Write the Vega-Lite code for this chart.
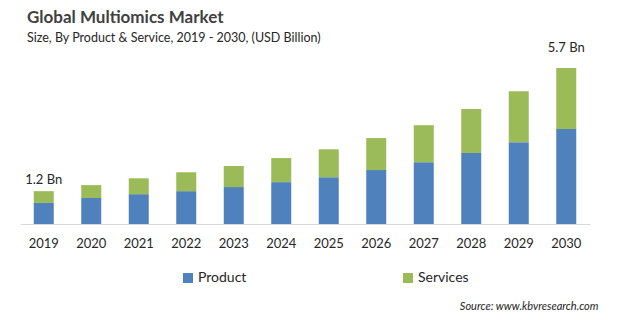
{
  "$schema": "https://vega.github.io/schema/vega-lite/v6.json",
  "width": 570,
  "height": 156,
  "autosize": {"type": "none"},
  "padding": {"left": 20, "top": 68, "right": 30, "bottom": 98},
  "background": "white",
  "title": {
    "text": "Global Multiomics Market",
    "subtitle": "Size, By Product & Service, 2019 - 2030, (USD Billion)",
    "anchor": "start",
    "frame": "group",
    "dx": 7,
    "offset": -3,
    "font": "Lato",
    "fontSize": 17,
    "fontWeight": "bold",
    "color": "#404040",
    "subtitleFont": "Lato",
    "subtitleFontSize": 12.5,
    "subtitleColor": "#262626",
    "subtitlePadding": 5
  },
  "config": {
    "view": {"stroke": null},
    "font": "Lato"
  },
  "datasets": {
    "bars": [
      {"year": "2019", "segment": "Product", "value": 0.77},
      {"year": "2019", "segment": "Services", "value": 0.43},
      {"year": "2020", "segment": "Product", "value": 0.95},
      {"year": "2020", "segment": "Services", "value": 0.47},
      {"year": "2021", "segment": "Product", "value": 1.09},
      {"year": "2021", "segment": "Services", "value": 0.58},
      {"year": "2022", "segment": "Product", "value": 1.2},
      {"year": "2022", "segment": "Services", "value": 0.69},
      {"year": "2023", "segment": "Product", "value": 1.35},
      {"year": "2023", "segment": "Services", "value": 0.77},
      {"year": "2024", "segment": "Product", "value": 1.53},
      {"year": "2024", "segment": "Services", "value": 0.88},
      {"year": "2025", "segment": "Product", "value": 1.71},
      {"year": "2025", "segment": "Services", "value": 1.02},
      {"year": "2026", "segment": "Product", "value": 1.97},
      {"year": "2026", "segment": "Services", "value": 1.17},
      {"year": "2027", "segment": "Product", "value": 2.26},
      {"year": "2027", "segment": "Services", "value": 1.35},
      {"year": "2028", "segment": "Product", "value": 2.59},
      {"year": "2028", "segment": "Services", "value": 1.61},
      {"year": "2029", "segment": "Product", "value": 2.99},
      {"year": "2029", "segment": "Services", "value": 1.86},
      {"year": "2030", "segment": "Product", "value": 3.47},
      {"year": "2030", "segment": "Services", "value": 2.23}
    ],
    "labels": [
      {"year": "2019", "total": 1.2, "label": "1.2 Bn"},
      {"year": "2030", "total": 5.7, "label": "5.7 Bn"}
    ]
  },
  "layer": [
    {
      "data": {"name": "bars"},
      "mark": {"type": "bar", "width": 20},
      "encoding": {
        "x": {
          "field": "year",
          "type": "nominal",
          "scale": {"paddingInner": 0.58, "paddingOuter": 0.29},
          "axis": {
            "title": "Source: www.kbvresearch.com",
            "titleFont": "Lato",
            "titleFontStyle": "italic",
            "titleFontWeight": "normal",
            "titleFontSize": 11,
            "titleColor": "#262626",
            "titleAnchor": "end",
            "titleAlign": "right",
            "titleX": 578,
            "titleY": 82,
            "titleBaseline": "middle",
            "labelAngle": 0,
            "labelFontSize": 13,
            "labelColor": "#262626",
            "labelPadding": 13,
            "ticks": false,
            "domainColor": "#d9d9d9",
            "domainWidth": 1
          }
        },
        "y": {
          "field": "value",
          "type": "quantitative",
          "stack": "zero",
          "scale": {"domain": [0, 5.7], "nice": false},
          "axis": null
        },
        "color": {
          "field": "segment",
          "type": "nominal",
          "scale": {"domain": ["Product", "Services"], "range": ["#4f81bd", "#9bbb59"]},
          "legend": {
            "title": null,
            "orient": "none",
            "legendX": 161,
            "legendY": 203,
            "direction": "horizontal",
            "columns": 2,
            "columnPadding": 154,
            "symbolType": "square",
            "symbolSize": 100,
            "symbolStrokeWidth": 0,
            "labelFontSize": 14,
            "labelColor": "#262626",
            "labelOffset": 3
          }
        },
        "order": {"field": "segment", "sort": "ascending"}
      }
    },
    {
      "data": {"name": "labels"},
      "transform": [{"filter": "datum.year == '2019'"}],
      "mark": {"type": "text", "fontSize": 13, "color": "#262626", "dy": -4, "baseline": "bottom"},
      "encoding": {
        "x": {"field": "year", "type": "nominal"},
        "y": {"field": "total", "type": "quantitative"},
        "text": {"field": "label"}
      }
    },
    {
      "data": {"name": "labels"},
      "transform": [{"filter": "datum.year == '2030'"}],
      "mark": {"type": "text", "fontSize": 13, "color": "#262626", "dy": -13, "baseline": "bottom"},
      "encoding": {
        "x": {"field": "year", "type": "nominal"},
        "y": {"field": "total", "type": "quantitative"},
        "text": {"field": "label"}
      }
    }
  ]
}
